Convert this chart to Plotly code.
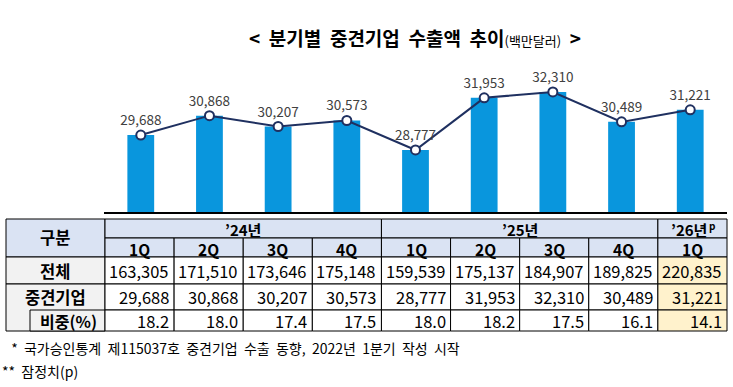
import plotly.graph_objects as go

# ---------------- data ----------------
categories = ["24-1Q", "24-2Q", "24-3Q", "24-4Q", "25-1Q", "25-2Q", "25-3Q", "25-4Q", "26-1Q"]
quarter_labels = ["1Q", "2Q", "3Q", "4Q", "1Q", "2Q", "3Q", "4Q", "1Q"]
year_labels = ["’24년", "’25년", "’26년"]
year_marks = ["", "", "p"]
year_spans = [4, 4, 1]
total_exports = [163305, 171510, 173646, 175148, 159539, 175137, 184907, 189825, 220835]
midsize_exports = [29688, 30868, 30207, 30573, 28777, 31953, 32310, 30489, 31221]
share_pct = [18.2, 18.0, 17.4, 17.5, 18.0, 18.2, 17.5, 16.1, 14.1]
row_labels = ["전체", "중견기업", "비중(%)"]
header_label = "구분"
title_main = "&lt;  분기별  중견기업  수출액  추이"
title_unit = "(백만달러)"
footnotes = [" *  국가승인통계  제115037호  중견기업  수출  동향,  2022년  1분기  작성  시작", "**  잠정치(p)"]

# ---------------- geometry helpers ----------------
W, H = 733, 387
def px(x):
    return x / W
def py(y):
    return 1 - y / H

FONT = "Noto Sans CJK KR"
LEFT, LABEL_R, RIGHT = 6, 105, 727
ncol = len(categories)
colw = (RIGHT - LABEL_R) / ncol
col_edges = [LABEL_R + i * colw for i in range(ncol + 1)]
row_y = [219, 238, 257, 284, 310, 331]

fig = go.Figure()

fig.add_trace(go.Bar(
    x=categories, y=midsize_exports, base=0,
    marker=dict(color="#0996dd", line=dict(width=0)),
    hoverinfo="skip",
))
fig.add_trace(go.Scatter(
    x=categories, y=midsize_exports, mode="lines+markers+text",
    line=dict(color="#1f3060", width=2),
    marker=dict(size=9, color="white", line=dict(color="#1f3060", width=2)),
    text=[f"{v:,}" for v in midsize_exports], textposition="top center",
    textfont=dict(family=FONT, size=13.5, color="#404040"),
    cliponaxis=False, hoverinfo="skip",
))

shapes = []
annotations = []
def rect(x0, y0, x1, y1, fill):
    shapes.append(dict(type="rect", xref="paper", yref="paper",
                       x0=px(x0), x1=px(x1), y0=py(y1), y1=py(y0),
                       fillcolor=fill, line=dict(color="black", width=1), layer="above"))
def text(x, y, s, size=15, bold=False, xanchor="center", color="black"):
    annotations.append(dict(xref="paper", yref="paper", x=px(x), y=py(y),
                            text=f"<b>{s}</b>" if bold else s, showarrow=False,
                            xanchor=xanchor, yanchor="middle",
                            font=dict(family=FONT, size=size, color=color)))

HDR = "#dae3f3"
GRAY = "#f2f2f2"
YEL = "#fff2cc"

# header
rect(LEFT, row_y[0], LABEL_R, row_y[2], HDR)
text((LEFT + LABEL_R) / 2, (row_y[0] + row_y[2]) / 2 - 1, header_label, 16.5, True)
ci = 0
for lab, mark, span in zip(year_labels, year_marks, year_spans):
    x0, x1 = col_edges[ci], col_edges[ci + span]
    rect(x0, row_y[0], x1, row_y[1], HDR)
    cx = (x0 + x1) / 2 - (3 if mark else 0)
    text(cx, (row_y[0] + row_y[1]) / 2 + 0.5, lab, 15, True)
    if mark:
        text(cx + 18, row_y[0] + 6, mark, 10, True, "left")
    ci += span
for i, q in enumerate(quarter_labels):
    x0, x1 = col_edges[i], col_edges[i + 1]
    rect(x0, row_y[1], x1, row_y[2], HDR)
    text((x0 + x1) / 2, (row_y[1] + row_y[2]) / 2 + 1, q, 15.5, True)

# row labels
rect(LEFT, row_y[2], LABEL_R, row_y[3], GRAY)
text((LEFT + LABEL_R) / 2, (row_y[2] + row_y[3]) / 2, row_labels[0], 16.5, True)
rect(LEFT, row_y[3], LABEL_R, row_y[5], GRAY)
text((LEFT + LABEL_R) / 2, (row_y[3] + row_y[4]) / 2, row_labels[1], 16.5, True)
rect(30, row_y[4], LABEL_R, row_y[5], GRAY)
text((30 + LABEL_R) / 2 + 1, (row_y[4] + row_y[5]) / 2, row_labels[2], 16, True)

# data rows
rows = [[f"{v:,}" for v in total_exports],
        [f"{v:,}" for v in midsize_exports],
        [f"{v:.1f}" for v in share_pct]]
for r, vals in enumerate(rows):
    y0, y1 = row_y[2 + r], row_y[3 + r]
    for i, s in enumerate(vals):
        x0, x1 = col_edges[i], col_edges[i + 1]
        rect(x0, y0, x1, y1, YEL if i == ncol - 1 else "white")
        text(x1 - 3, (y0 + y1) / 2, s, 16.5, False, "right")

# title
annotations.append(dict(xref="paper", yref="paper", x=px(415), y=py(38), showarrow=False,
                        xanchor="center", yanchor="middle",
                        text=f"<b>{title_main}</b><span style='font-size:13px'>{title_unit}</span>  <b>&gt;</b>",
                        font=dict(family=FONT, size=19, color="black")))
# footnotes
annotations.append(dict(xref="paper", yref="paper", x=px(6), y=py(348), showarrow=False,
                        xanchor="left", yanchor="middle", text=footnotes[0],
                        font=dict(family=FONT, size=14, color="black")))
annotations.append(dict(xref="paper", yref="paper", x=px(0), y=py(371), showarrow=False,
                        xanchor="left", yanchor="middle", text=footnotes[1],
                        font=dict(family=FONT, size=14, color="black")))

fig.update_layout(
    width=W, height=H, margin=dict(l=0, r=0, t=0, b=0),
    paper_bgcolor="white", plot_bgcolor="white", showlegend=False,
    bargap=0.61, shapes=shapes, annotations=annotations,
    xaxis=dict(domain=[px(LABEL_R - 1), px(RIGHT)], type="category", categoryorder="array",
               categoryarray=categories, showticklabels=False, ticks="", showgrid=False,
               zeroline=False, showline=True, linecolor="black", linewidth=1.5),
    yaxis=dict(domain=[py(212), py(60)], range=[25000, 34257], visible=False,
               showgrid=False, zeroline=False),
)

fig.write_html("out.html")
